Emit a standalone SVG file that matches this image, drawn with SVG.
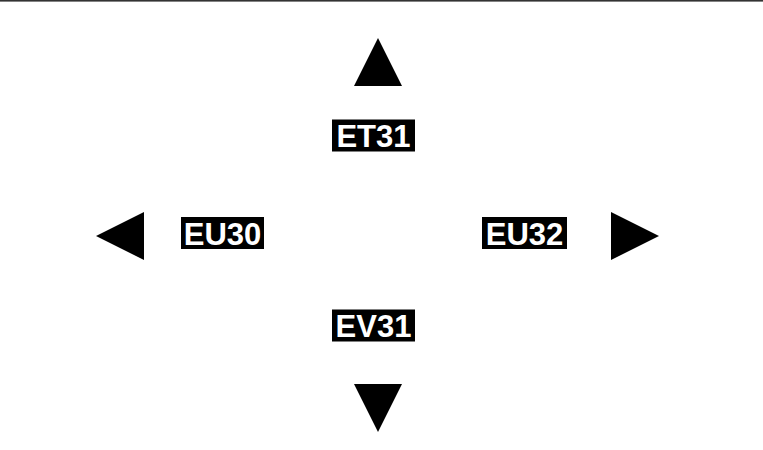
<svg xmlns="http://www.w3.org/2000/svg" width="763" height="450" viewBox="0 0 763 450">
<style>
.lblbg{fill:#000}
.lbl{font-family:"Liberation Sans",Arial,sans-serif;font-weight:bold;font-size:31px;fill:#fff;text-anchor:middle}
.arr{fill:#000}
</style>
<rect x="0" y="0" width="763" height="450" fill="#fff"/>
<rect x="0" y="0" width="763" height="1.6" fill="#333"/>
<g id="connectors">
<polygon class="arr" points="378,38 402,86 354,86"/>
<polygon class="arr" points="96,236 144,212 144,260"/>
<polygon class="arr" points="659,236 611,212 611,260"/>
<polygon class="arr" points="378,432 402,384 354,384"/>
</g>
<g id="ET31">
<rect class="lblbg" x="332" y="119.5" width="83" height="32"/>
<text class="lbl" x="373.5" y="147.2">ET31</text>
</g>
<g id="EU30">
<rect class="lblbg" x="181" y="217" width="83" height="32"/>
<text class="lbl" x="222.5" y="244.7">EU30</text>
</g>
<g id="EU32">
<rect class="lblbg" x="482" y="217" width="85" height="32"/>
<text class="lbl" x="524.5" y="244.7">EU32</text>
</g>
<g id="EV31">
<rect class="lblbg" x="332" y="309.5" width="83" height="32"/>
<text class="lbl" x="373.5" y="337.2">EV31</text>
</g>
</svg>
